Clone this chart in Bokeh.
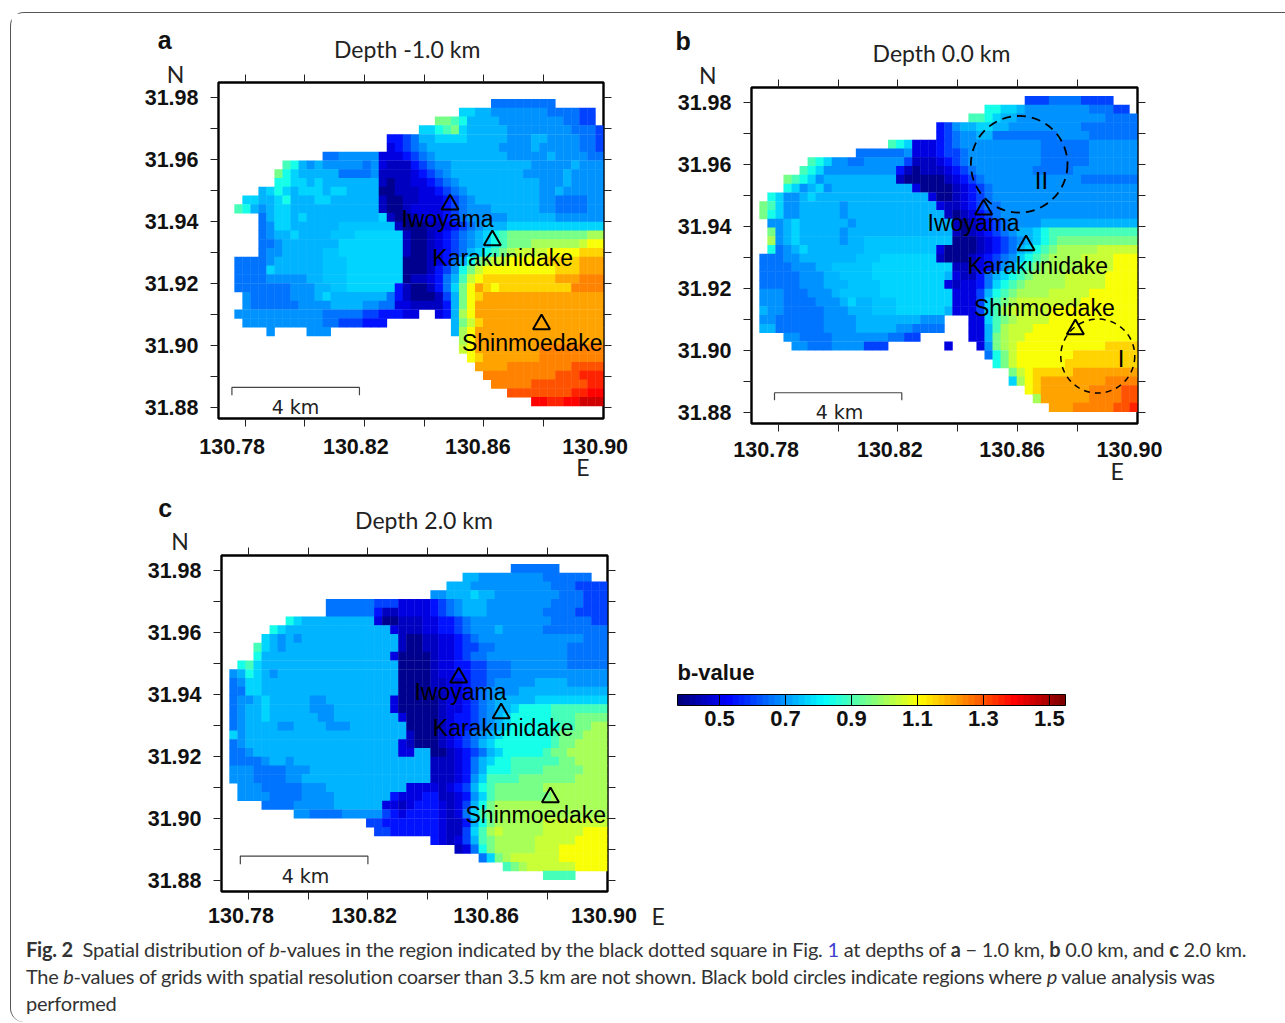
import re
import numpy as np
from bokeh.plotting import figure
from bokeh.models import (ColumnDataSource, Range1d, LinearColorMapper, FixedTicker, Div,
                          LinearAxis, CustomJSTickFormatter, PrintfTickFormatter, ColorBar)
from bokeh.layouts import column, row
from bokeh.transform import transform
from bokeh.core.properties import value
from bokeh.embed import file_html
from bokeh.resources import INLINE

# ---------- data ----------
b_codes = dict(A=.40, B=.45, C=.50, D=.55, E=.60, F=.65, G=.70, H=.74, h=.757, I=.775, J=.85, K=.90, L=.95,
               M=1.00, N=1.05, O=1.10, P=1.15, Q=1.20, R=1.25, S=1.30, T=1.35, U=1.40, V=1.45)

# every row: count+code runs from the west edge, "." = not shown
rows_a = [
"34. 8F",
"30. 2I 2H 7G 4F 2E",
"27. 2L K J 4H 8G 2F 2E",
"25. 2I J K L I 5H 8G 3F E",
"21. 2D E F 2H 4I 5H 3G 2H 4G 2F E",
"21. C D E F G 4H 5H 4G H 5G 2F E",
"13. 2F 5G 3C D E F G 5H 4H 5G H 4G 2F",
"8. K J H G H 5G F G C 3B D E F 2G 10H 5G H 3G",
"7. L J I 5H 4F G 4B C D E F G 9H 5G H 4G",
"7. 2J 2I H I 7H B A 2B 2C D E F G 10H 3G H 4G",
"5. H I J I H 3I H 2I 4H 2A 3B 2C D E F G 9H 2G H 5G",
"3. 2I 2H I J 3H 2I 6H B 2A 2B 3C D E F G 8H 2G 4F 2G",
"2. K J H G H 2I 11H B 2A B 4C D E F 3G 6H 2G 4F 2G",
"5. F H 2I H I 9H I B 2A B 3C D E F 5G 6H 6G",
"5. F G 2I 3H 3H 4h 3h B 3A 2B C D E F G 3H 12I",
"5. F G 2H I H 3H 3h 6I B 2A B C D E F G H I J K 10L 2M",
"5. 2F G 2H 5H 8I B 2A B C D E F G H I J K 3L 6M N 2O",
"5. F 2G 5H 2h 8I B 2A B C D E F H I J K L M 4N 4O 3P",
"2. 4F G 6H 3h 7I 3A B C D F H J L M 2N 5O 4P 3Q",
"2. 4F I 6H 3h 7I 3A B D E G J L N 9O 3P 3Q",
"2. 4F 5G 2H 3h 7I A 2B C D F H K N O 9P 3Q 3R",
"2. 7F 3G 2H 2h 6I D B 2A B D F I L O Q P O 9P 4R",
"3. G 5F 3G H I 7H F D B 3A B E H L O P 15Q",
"3. G 6F 4G 4H 2G 2F 2C 4B D H L O 16Q",
"2. 11G 5F 2E 3D 2C 2. C D H M O 16Q",
"3. 10G 2F 3E 3D 8. H L N P 15Q",
"6. G 4. 3G 15. H M O 16Q",
"30. M O 16Q",
"30. N O 8Q 8R",
"31. O P 7Q 8R",
"32. 4Q 8R 4S",
"33. 9R 3S 3T",
"34. 5R 7S 2T",
"36. 8S 2T 2U",
"39. 2U 2T 2U 3V",
]

rows_b = [
"34. 3E 4F 4E",
"29. 2J 2I H 3G 5G 3F 2E",
"27. 2K J I 2H 6G 5G 4F",
"23. D E G 2H 2I 2H 9G 7F",
"23. D E F 2G 2H 8F 4G 6F",
"17. K J I 3C D E F 10G 6F 6G",
"13. 6F G 3C D 2E F 9G 6F 6G",
"7. K J I 2G 2F 5G E 3B C D E F 9G 6F 6G",
"6. K J I G 8G D B A 3B C D E F 7G 5F 8G",
"4. L K J I G 9H B 5A B C D E F 7G 5G 7F",
"4. J I G H I G 10H C 4A B C D E F 18G",
"2. J I 2G H I 14H C 2A B C D E F 18G",
"1. L K I 2G 5H G 11H C 2B C D E 2F 17G",
"1. L J I 2G 5H G 12H B A B C D E F 17G",
"2. 2G H I 6H G 12H B A B C D E F G 3G 4H 8H",
"2. L G H I 5H G 13H B A B C D E F G 2H I J 11K",
"2. M G H I 5H G 2H 11h 3A B C D E F G H I J K 10L",
"2. J F G H I 5H 2H 9h C 4A B C D E F H I J K L 5M 5N",
"1. 3F 2G 5H 2H 3h 7I B 3A B C D E F G I J K L 4M 4N 3O",
"1. 4F 3G 2H 5h 10I 3B C D E G H J K L 5M 4N 3O",
"1. 5F 3G 2H 4h 9I H C 2B D F H I J K L 4M 5N 4O",
"1. 5F 3G 3H 4h 8I C B 2C D F I J K L M 4M 5N 4O",
"1. 3G 3F 3G H 5h 9I 3C E H J K L 4M 5N 6O",
"1. 3G 4F 3G H I 2H 3h 7I 3C E I K L M 3N 5N 7O",
"1. H 2G 5F 3G 3H 3h 6I H 3C E I K M 5N 4O 7O",
"1. 2G 6F 4G 4H 4H 3G 3. 2C I K L M 4N 11O",
"1. 2H 6F 4G 5H 2G 4F 3. 2C H K M 3N 13O",
"4. 2G 4F 4G 3G 2F 2E 6. 2C H L M 2N 14O",
"5. 2G 3F 4G 3E 7. C 3. C G L M N 11O 4P",
"29. F J L N 7O 8P",
"30. J L N 6O 9P",
"32. L N O 5P 8Q",
"32. I M O P 8Q 4R",
"34. O P 6Q 4R 2S",
"35. M Q 5Q 4R 2S",
"37. 3Q 5R 2S T",
]

rows_c = [
"36. 6F",
"30. 2H 3G 5G 2F 4F",
"28. 3H 3G 7G 3F 4E",
"26. 2G 3H I 2H 8G 3F 3E",
"13. 6F 3E 4C D E F G H 2H 8G 4F 3E",
"13. 6F D 2B 4C D E F G H 2H 7G 4F 4E",
"8. J I 9H C 2A 3B 2C 2D E F 10G 5F 2E",
"6. J I 13H C 3B 2C 2D E F 3G H 5G 8F",
"5. I H G H G 12H B 2A 2B 2C D E F 4G 9G 3F",
"4. K I H G 14H B 2A 2B 2C D 2E 2F 9G 5F",
"4. J 16H C 4A B 2C D E 2F 5G 5G 5F",
"2. J K I 17H 4A B 2C 2D 2E 3F 7G 5F",
"1. G H J I H G H 14H 4A B 2C 2D 2E 3F 12G",
"1. F G 2I 17H 4A 2B 2C D 2E F 5G 4H 5G",
"1. 2F 2I 17H 4A 2B 2C D E F G 3G 4H 7H",
"1. F 2G H I 5H 2G 8H C 5A B 2C D E F G 5H 9I",
"1. F G 2H I 5H 3G 7H C 5A B 2C D E F G 2H I J 3J 7K",
"1. F G 2H I 6H 2G 8H C 4A B C 2D E F G H I 5J 3K 4L",
"1. F G 4H 2G 4H 3G 7H 4A B C 2D E F G H I J 5J 2K 2L 2M",
"1. I G 20H B 3A B C D E F G H I J 5J K 3L 3M",
"1. F G 19H C B 3A B C D E F H I J 6J K 2L 4M",
"1. 2F G 18H 2C 2H 2A B C D E F H I J 4J K 2L 5M",
"1. 4F G 2H G 17H 3B C D F H I 2J 6K 2L 4M",
"1. 3G 4F 3G 2H 13H 3B C D F H J 2J 4K 5L 3M",
"1. 3G 4F 2G 8H 8H 3B C D G I K 3K 7L 4M",
"2. 3G 5F 3G 10H 4C B C D E H J K L 5L 8M",
"2. 4G 4F 4G 7H D 3C 2D 2B C D G I K L 6L 7M",
"5. 4F 5G 6H 2C B C 3D C B C E H J L M 13M",
"9. 2G 4F 5G E D C 4D C B C F I K L M 13M",
"18. 2E 7D C 2B D H J L M 5M 8N",
"19. 2E 6D C 2B E I K M N 5M 5N 3O",
"26. D C B C E H K L M 4M 5N 4O",
"29. B C F J L M 4M 3N 6O",
"32. F I L M N 5N 6O",
"35. K L M 6N 4O",
"40. 4K",
]

volcano_names = ["Iwoyama", "Karakunidake", "Shinmoedake"]
volcano_lon = [130.8487, 130.8629, 130.8794]
volcano_lon_c = [130.8504, 130.8646, 130.8811]
volcano_lat = [31.9454, 31.9339, 31.9069]

x_tick_labels = ["130.78", "130.82", "130.86", "130.90"]
x_ticks = [130.78, 130.80, 130.82, 130.84, 130.86, 130.88]
y_ticks = [31.88, 31.90, 31.92, 31.94, 31.96, 31.98]
y_minor = [31.89, 31.91, 31.93, 31.95, 31.97]
cbar_ticks = [0.5, 0.7, 0.9, 1.1, 1.3, 1.5]
cbar_low, cbar_high = 0.3727, 1.549

scale_a = [130.7755, 130.8183]
scale_b = [130.7787, 130.8213]
scale_c = [130.7773, 130.8200]

circle_lon = [130.8606, 130.8869]
circle_lat = [31.9600, 31.8983]

# ---------- layout constants ----------
X0, X1 = 130.7710, 130.9002
Y0, Y1 = 31.8766, 31.9847
NCOL = 48
DX = (X1 - X0) / NCOL
DY = 0.00282
SANS = "Liberation Sans"
TITLE_FONT = "Lato"
OX, OY = 11, 13


def jet(t):
    r = np.clip(1.5 - abs(4 * t - 3), 0, 1)
    g = np.clip(1.5 - abs(4 * t - 2), 0, 1)
    b = np.clip(1.5 - abs(4 * t - 1), 0, 1)
    return "#%02x%02x%02x" % (int(r * 255), int(g * 255), int(b * 255))


palette = [jet(i / 63) for i in range(64)]
mapper = LinearColorMapper(palette=palette, low=cbar_low, high=cbar_high)
notes = {}


def put(px, py, text, size, font=SANS, style_="normal", color="black"):
    d = notes.setdefault((size, font, style_, color), dict(x=[], y=[], t=[]))
    d["x"].append(px)
    d["y"].append(py)
    d["t"].append(text)


def decode(rows, lat_top):
    lon, lat, val = [], [], []
    for r, s in enumerate(rows):
        c = 0
        for tok in s.split():
            m = re.fullmatch(r"(\d*)(.)", tok)
            n = int(m.group(1) or 1)
            for _ in range(n):
                if m.group(2) != "." and c < NCOL:
                    lon.append(X0 + (c + .5) * DX)
                    lat.append(lat_top - (r + .5) * DY)
                    val.append(b_codes[m.group(2)])
                c += 1
    return dict(lon=lon, lat=lat, b=val)


def panel(rows, lat_top, page_l, page_t, fig_w, fig_h, left, top, fw, fh):
    """left/top: frame position on the page."""
    p = figure(width=fig_w, height=fig_h, x_range=Range1d(X0, X1), y_range=Range1d(Y0, Y1),
               output_backend="svg", toolbar_location=None, tools="", frame_align=False,
               min_border_left=left - page_l, min_border_top=top - page_t,
               min_border_right=fig_w - (left - page_l) - fw,
               min_border_bottom=fig_h - (top - page_t) - fh,
               x_axis_location=None, y_axis_location=None)
    p.grid.visible = False
    p.outline_line_color = "black"
    p.outline_line_width = 2.4
    # slightly overlapping cells, so that no seams show between them
    p.rect("lon", "lat", width=DX * 1.05, height=DY * 1.05, source=ColumnDataSource(decode(rows, lat_top)),
           fill_color=transform("b", mapper), line_color=None)

    blank = CustomJSTickFormatter(code="return ''")

    def style(ax):
        ax.axis_line_color = None
        ax.major_tick_in = 0
        ax.major_tick_out = 8
        ax.minor_tick_in = 0
        ax.minor_tick_out = 8
        ax.major_tick_line_color = "#222222"
        ax.minor_tick_line_color = "#222222"

    for loc in ("below", "above"):
        ax = LinearAxis(ticker=FixedTicker(ticks=x_ticks), formatter=blank)
        style(ax)
        p.add_layout(ax, loc)
    ax = LinearAxis(ticker=FixedTicker(ticks=y_ticks, minor_ticks=y_minor),
                    formatter=PrintfTickFormatter(format="%.2f"))
    style(ax)
    ax.major_label_text_font = SANS
    ax.major_label_text_font_style = "bold"
    ax.major_label_text_font_size = "21.5px"
    ax.major_label_text_color = "#111111"
    ax.major_label_standoff = 12
    p.add_layout(ax, "left")
    ax = LinearAxis(ticker=FixedTicker(ticks=y_ticks, minor_ticks=y_minor), formatter=blank)
    style(ax)
    p.add_layout(ax, "right")
    return p


def decorate(p, lons, offsets, scale, title, title_xy, n_xy, e_xy, letter, letter_xy, xlab_px, xlab_y,
             km_xy, scale_lat):
    src = ColumnDataSource(dict(lon=lons, lat=volcano_lat, name=volcano_names,
                                dx=[o[0] for o in offsets], dy=[o[1] for o in offsets]))
    p.scatter("lon", "lat", source=src, marker="triangle", size=17, fill_color=None,
              line_color="black", line_width=2)
    p.text("lon", "lat", text="name", source=src, x_offset="dx", y_offset="dy", text_align="center",
           text_baseline="middle", text_font=value(SANS), text_font_size="23px", text_color="black")
    p.line([scale[0], scale[0], scale[1], scale[1]],
           [scale_lat[1], scale_lat[0], scale_lat[0], scale_lat[1]], line_color="#444444", line_width=1.2)
    put(km_xy[0], km_xy[1], "4 km", 19, font="DejaVu Sans", color="#222222")
    put(title_xy[0], title_xy[1], title, 23, font=TITLE_FONT, color="#222222")
    put(n_xy[0], n_xy[1], "N", 23, font=TITLE_FONT, color="#222222")
    put(e_xy[0], e_xy[1], "E", 23, font=TITLE_FONT, color="#222222")
    put(letter_xy[0], letter_xy[1], letter, 25, style_="bold", color="#111111")
    for t, px in zip(x_tick_labels, xlab_px):
        put(px, xlab_y, t, 21.5, style_="bold", color="#111111")


# panel a
pa = panel(rows_a, 31.9793, OX, OY, 659, 477, 218, 82, 385, 336)
decorate(pa, volcano_lon, [(-2.6, 14), (10.3, 17.7), (-9.3, 18.3)], scale_a, "Depth -1.0 km", (406.7, 48.7),
         (175, 73), (582.3, 466.5), "a", (164.3, 39), [231.7, 355.3, 477.3, 594.7], 445.7,
         (295, 406.7), (31.8866, 31.8841))

# panel b
pb = panel(rows_b, 31.9819, OX + 659, OY, 605, 477, 751, 87, 386, 336)
decorate(pb, volcano_lon, [(-10, 13), (11.7, 21), (-31, -21.6)], scale_b, "Depth 0.0 km", (941, 52),
         (707.3, 74), (1116.7, 470), "b", (682.7, 40), [765.7, 889.3, 1011.7, 1129], 449.3,
         (839, 411.5), (31.8865, 31.8841))
pb.scatter(circle_lon[:1], circle_lat[:1], marker="circle", size=96.6, fill_color=None,
           line_color="black", line_width=1.8, line_dash="9 6")
pb.scatter(circle_lon[1:], circle_lat[1:], marker="circle", size=74, fill_color=None,
           line_color="black", line_width=1.5, line_dash="6 5")
put(1041, 180, "II", 24)
put(1120.7, 357.7, "I", 24)

# panel c
pc = panel(rows_c, 31.9819, OX, 490, 659, 440, 221, 555, 386, 336)
decorate(pc, volcano_lon_c, [(1.7, 14), (2, 15), (-14.6, 17.7)], scale_c, "Depth 2.0 km", (423.5, 519.7),
         (179.6, 540.7), (657.6, 915.5), "c", (164.7, 507.5), [240.5, 363.6, 485.7, 603.5], 915,
         (305, 875.5), (31.8880, 31.8854))

# colour bar
pk = figure(width=605, height=440, x_range=Range1d(0, 1), y_range=Range1d(0, 1), output_backend="svg",
            toolbar_location=None, tools="", min_border=0, x_axis_location=None, y_axis_location=None,
            frame_align=False)
pk.grid.visible = False
pk.outline_line_color = None
cb = ColorBar(color_mapper=mapper, orientation="horizontal", width=388, height=11,
              location=(7, 202), padding=0, margin=0,
              ticker=FixedTicker(ticks=cbar_ticks), formatter=PrintfTickFormatter(format="%.1f"),
              major_tick_in=11, major_tick_out=0, major_tick_line_color="black", major_tick_line_width=1,
              minor_tick_line_color=None, bar_line_color="black", bar_line_width=1,
              major_label_text_font=SANS, major_label_text_font_style="bold",
              major_label_text_font_size="22px", major_label_text_color="#111111", label_standoff=5,
              title="b-value", title_text_font=SANS, title_text_font_style="bold",
              title_text_font_size="22px", title_text_color="#111111", title_standoff=19)
pk.add_layout(cb, "center")

caption = Div(
    text=('<div style="font-family:Lato;font-size:20px;line-height:27px;color:#333;white-space:nowrap;'
          'letter-spacing:-0.23px">'
          '<b>Fig. 2</b>&nbsp; Spatial distribution of <i>b</i>-values in the region indicated by the black '
          'dotted square in Fig. <span style="color:#4040d0">1</span> at depths of <b>a</b> &minus; 1.0 km, '
          '<b>b</b> 0.0 km, and <b>c</b> 2.0 km.<br><span style="letter-spacing:-0.29px">'
          'The <i>b</i>-values of grids with spatial resolution coarser than 3.5 km are not shown. '
          'Black bold circles indicate regions where <i>p</i> value analysis was</span><br>performed</div>'),
    width=1250, height=86, margin=(6, 0, 0, 15))

# transparent sheet over the whole page for the texts that lie outside the panel frames
W, H = 1264, 917
sheet = figure(width=W, height=H, x_range=Range1d(OX, OX + W), y_range=Range1d(OY + H, OY),
               output_backend="svg", toolbar_location=None, tools="", min_border=0,
               x_axis_location=None, y_axis_location=None, frame_align=False,
               background_fill_color=None, border_fill_color=None, outline_line_color=None,
               styles={"position": "absolute", "left": "0px", "top": "0px", "pointer-events": "none"})
sheet.grid.visible = False
for (size, font, style_, color), d in notes.items():
    sheet.text("x", "y", text="t", source=ColumnDataSource(d), text_align="center", text_baseline="middle",
               text_font=value(font), text_font_size=f"{size}px", text_font_style=style_, text_color=color)

root = column(row(pa, pb), row(pc, pk), caption, sheet, spacing=0,
              styles={"border-left": "1.2px solid #555", "border-top": "1.2px solid #555",
                      "border-radius": "14px 0 0 14px", "margin-left": "10px", "margin-top": "12px",
                      "position": "relative", "width": "1275px"})

open("out.html", "w").write(file_html(root, INLINE))
